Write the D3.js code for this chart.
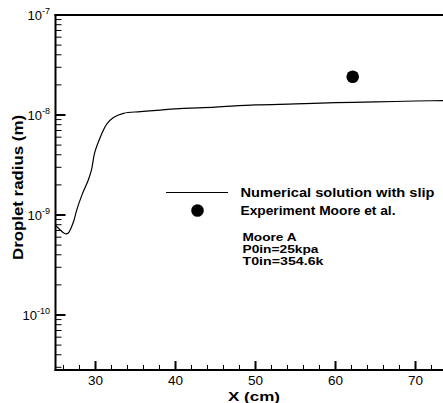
<!DOCTYPE html>
<html><head><meta charset="utf-8">
<script src="https://cdn.jsdelivr.net/npm/d3@7"></script>
<style>body{margin:0;background:#fff}svg{display:block}text{font-family:"Liberation Sans",Arial,sans-serif}</style>
</head><body><svg id="c" width="443" height="403"></svg>
<script>
// Numerical solution with slip: X (cm), droplet radius (m)
const curveX = [25.0,25.5,26.2,26.6,27.0,27.3,27.65,28.3,29.1,29.5,29.9,30.6,31.4,32.2,33.5,35.6,38.1,40,45,50,55,60,65,70,75];
const curveR = [7.9e-10,7.2e-10,6.5e-10,6.6e-10,7.6e-10,8.8e-10,1.12e-9,1.58e-9,2.24e-9,2.82e-9,4.2e-9,6.0e-9,8.1e-9,9.4e-9,1.04e-8,1.08e-8,1.12e-8,1.15e-8,1.2e-8,1.26e-8,1.29e-8,1.33e-8,1.35e-8,1.38e-8,1.40e-8];
// Experiment Moore et al.
const expX = [62.15];
const expR = [2.41e-8];
const xTicks = [30,40,50,60,70];
const yDecades = [-7,-8,-9,-10];
const legendLabels = ["Numerical solution with slip","Experiment Moore et al."];
const noteLines = ["Moore A","P0in=25kpa","T0in=354.6k"];

const svg = d3.select("#c");
const L = 55.5, T = 15, B = 370, R = 455.5;
const x = d3.scaleLinear().domain([25,75]).range([L,R]);
const y = d3.scaleLog().domain([Math.pow(10,-10.55),1e-7]).range([B,T]);

// minor ticks
const xMinor = d3.range(26,76,2).filter(v=>v%10!==0);
svg.append("g").selectAll("line").data(xMinor).join("line")
  .attr("x1",d=>x(d)).attr("x2",d=>x(d)).attr("y1",B).attr("y2",B-5)
  .attr("stroke","#000").attr("stroke-width",1);
svg.append("g").selectAll("line").data(xTicks).join("line")
  .attr("x1",d=>x(d)).attr("x2",d=>x(d)).attr("y1",B).attr("y2",B-9)
  .attr("stroke","#000").attr("stroke-width",2);
svg.append("g").selectAll("text").data(xTicks).join("text")
  .attr("x",d=>x(d)).attr("y",384.5).attr("text-anchor","middle")
  .attr("font-size",13.5).text(d=>d);

const yMinor = [];
[-11,-10,-9,-8].forEach(e=>{for(let k=2;k<=9;k++){const v=k*Math.pow(10,e); if(v>=y.domain()[0]&&v<=1e-7) yMinor.push(v);}});
svg.append("g").selectAll("line").data(yMinor).join("line")
  .attr("x1",L).attr("x2",L+6).attr("y1",d=>y(d)).attr("y2",d=>y(d))
  .attr("stroke","#000").attr("stroke-width",1);
svg.append("g").selectAll("line").data(yDecades).join("line")
  .attr("x1",L).attr("x2",L+10).attr("y1",d=>y(Math.pow(10,d))).attr("y2",d=>y(Math.pow(10,d)))
  .attr("stroke","#000").attr("stroke-width",2);
const yl = svg.append("g").selectAll("text").data(yDecades).join("text")
  .attr("x",50).attr("y",d=>y(Math.pow(10,d))+5).attr("text-anchor","end").attr("font-size",13);
yl.append("tspan").text("10");
yl.append("tspan").attr("dy",-6).attr("font-size",9).text(d=>"-"+(-d));

// frame
svg.append("line").attr("x1",L).attr("x2",L).attr("y1",T-1).attr("y2",B+1).attr("stroke","#000").attr("stroke-width",2);
svg.append("line").attr("x1",L-1).attr("x2",443).attr("y1",B).attr("y2",B).attr("stroke","#000").attr("stroke-width",2);
svg.append("line").attr("x1",L-1).attr("x2",443).attr("y1",T).attr("y2",T).attr("stroke","#000").attr("stroke-width",2);

// curve
const pts = curveX.map((v,i)=>[v,curveR[i]]);
svg.append("path").datum(pts)
  .attr("d",d3.line().x(d=>x(d[0])).y(d=>y(d[1])).curve(d3.curveCatmullRom.alpha(0.5)))
  .attr("fill","none").attr("stroke","#000").attr("stroke-width",1.2);
svg.append("g").selectAll("circle").data(expX).join("circle")
  .attr("cx",d=>x(d)).attr("cy",(d,i)=>y(expR[i])).attr("r",6.3).attr("fill","#000");

// axis titles
svg.append("text").attr("x",254).attr("y",400.5).attr("text-anchor","middle")
  .attr("font-size",13.5).attr("font-weight","bold").attr("textLength",52).attr("lengthAdjust","spacingAndGlyphs").text("X (cm)");
svg.append("text").attr("transform","translate(23,187.5) rotate(-90)").attr("text-anchor","middle")
  .attr("font-size",14).attr("font-weight","bold").attr("textLength",145).attr("lengthAdjust","spacingAndGlyphs").text("Droplet radius (m)");

// legend
svg.append("line").attr("x1",166).attr("x2",228).attr("y1",192.5).attr("y2",192.5).attr("stroke","#000").attr("stroke-width",1.2);
svg.append("circle").attr("cx",197.5).attr("cy",210.5).attr("r",6.3).attr("fill","#000");
const lw = [194,155];
svg.append("g").selectAll("text").data(legendLabels).join("text")
  .attr("x",240.5).attr("y",(d,i)=>197+i*18).attr("font-size",12).attr("font-weight","bold")
  .attr("textLength",(d,i)=>lw[i]).attr("lengthAdjust","spacingAndGlyphs").text(d=>d);
const nw = [54,76,81];
svg.append("g").selectAll("text").data(noteLines).join("text")
  .attr("x",242.5).attr("y",(d,i)=>241+i*12).attr("font-size",11).attr("font-weight","bold")
  .attr("textLength",(d,i)=>nw[i]).attr("lengthAdjust","spacingAndGlyphs").text(d=>d);
</script></body></html>
